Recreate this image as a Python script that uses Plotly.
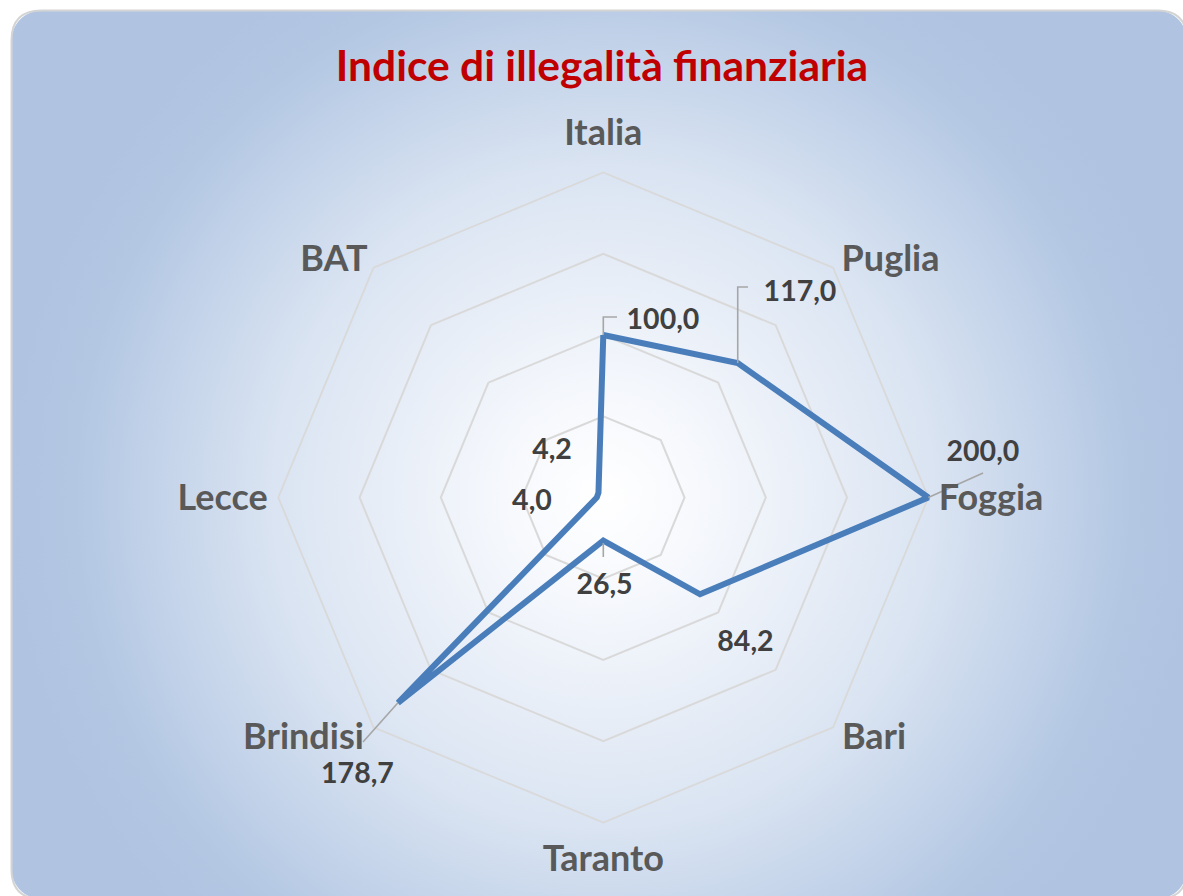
import numpy as np
import plotly.graph_objects as go

# ---------------- data ----------------
categories = ["Italia", "Puglia", "Foggia", "Bari", "Taranto", "Brindisi", "Lecce", "BAT"]
values = [100.0, 117.0, 200.0, 84.2, 26.5, 178.7, 4.0, 4.2]
value_labels = ["100,0", "117,0", "200,0", "84,2", "26,5", "178,7", "4,0", "4,2"]
grid_values = [50, 100, 150]
radial_max = 200
title_text = "Indice di illegalità finanziaria"

# ---------------- label placement (polar r, theta in degrees) ----------------
cat_label_r = [222.5, 228.6, 238.6, 223.7, 224.3, 237.3, 234.3, 220.2]
cat_label_theta = [0, 50.65, 90.52, 131.86, 180, 231.03, 269.47, 311.17]
val_label_r = [114.4, 174.4, 235.2, 125.4, 54.8, 228.4, 44.0, 42.4]
val_label_theta = [18.73, 43.96, 83.39, 135.76, 179.2, 221.48, 266.0, 311.88]
leader_lines = [
    ([100, 111.1, 111.4], [0, 0, 4.34]),
    ([117, 153.7, 157.2], [45, 32.56, 34.5]),
    ([200, 234.2], [90, 86.3]),
    ([28, 36.6], [180, 180]),
    ([178.7, 211.0], [225, 224.5]),
]

# ---------------- layout geometry ----------------
W, H = 1183, 896
cx, cy = 603.3, 497.5
px_per_unit = 325 / radial_max
outer_range = 240

GRID = "#d9d9d9"
LINE = "#4a7ebb"
CAT_COLOR = "#595959"
VAL_COLOR = "#404040"
FONT = "Lato"

fig = go.Figure()

# background: rounded rectangle with radial gradient
bx0, by0, bx1, by1, rad = 11.5, 10.5, 1187.0, 899.0, 30.0
half = 600.0


def arc(xc, yc, a0, a1, n=14):
    t = np.radians(np.linspace(a0, a1, n))
    return list(xc + rad * np.cos(t)), list(yc + rad * np.sin(t))


xs, ys = [], []


def add(px, py):
    xs.extend(px)
    ys.extend(py)


add([bx0, cx - half, bx0], [cy, cy, cy])
add(*arc(bx0 + rad, by0 + rad, 180, 270))
add([cx, cx, cx], [by0, cy - half, by0])
add(*arc(bx1 - rad, by0 + rad, 270, 360))
add([bx1, cx + half, bx1], [cy, cy, cy])
add(*arc(bx1 - rad, by1 - rad, 0, 90))
add([cx, cx, cx], [by1, cy + half, by1])
add(*arc(bx0 + rad, by1 - rad, 90, 180))
add([bx0], [cy])

fig.add_trace(go.Scatter(
    x=xs, y=ys, mode="lines", fill="toself",
    line=dict(width=0, simplify=False),
    fillgradient=dict(
        type="radial",
        colorscale=[[0, "#ffffff"], [0.15, "#f7f9fd"], [0.55, "#dae4f2"],
                    [0.88, "#b3c7e3"], [1, "#b0c4e2"]],
    ),
    hoverinfo="skip", showlegend=False,
))

# border
path = (f"M {bx0 + rad},{by0} L {bx1 - rad},{by0} Q {bx1},{by0} {bx1},{by0 + rad} "
        f"L {bx1},{by1 - rad} Q {bx1},{by1} {bx1 - rad},{by1} L {bx0 + rad},{by1} "
        f"Q {bx0},{by1} {bx0},{by1 - rad} L {bx0},{by0 + rad} Q {bx0},{by0} {bx0 + rad},{by0} Z")
fig.add_shape(type="path", path=path, xref="x", yref="y",
              line=dict(color="#d4d4d4", width=2), fillcolor="rgba(0,0,0,0)", layer="above")

# polar 1 : categorical grid (octagon)
fig.add_trace(go.Scatterpolar(
    r=values, theta=categories, mode="markers",
    marker=dict(size=1, opacity=0), hoverinfo="skip", showlegend=False,
    subplot="polar",
))

# polar 2 : data line and labels
n = len(categories)
theta_vals = [i * 360 / n for i in range(n)]
fig.add_trace(go.Scatterpolar(
    r=values + values[:1], theta=theta_vals + theta_vals[:1], mode="lines",
    line=dict(color=LINE, width=6), subplot="polar2", showlegend=False,
    hoverinfo="skip",
))
for lr, lt in leader_lines:
    fig.add_trace(go.Scatterpolar(
        r=lr, theta=lt, mode="lines", line=dict(color="#a6a6a6", width=1.6),
        subplot="polar2", showlegend=False, hoverinfo="skip",
    ))
fig.add_trace(go.Scatterpolar(
    r=val_label_r, theta=val_label_theta, mode="text", text=value_labels,
    textposition="middle center",
    textfont=dict(family=FONT, size=28.5, color=VAL_COLOR, weight="bold"),
    subplot="polar2", showlegend=False, cliponaxis=False, hoverinfo="skip",
))
fig.add_trace(go.Scatterpolar(
    r=cat_label_r, theta=cat_label_theta, mode="text", text=categories,
    textposition="middle center",
    textfont=dict(family=FONT, size=36, color=CAT_COLOR, weight="bold"),
    subplot="polar2", showlegend=False, cliponaxis=False, hoverinfo="skip",
))

r1 = 325
r2 = outer_range * px_per_unit

fig.update_layout(
    width=W, height=H,
    margin=dict(l=0, r=0, t=0, b=0),
    paper_bgcolor="white",
    plot_bgcolor="rgba(0,0,0,0)",
    showlegend=False,
    title=dict(text=title_text, x=602 / W, y=1 - 66 / H, xanchor="center", yanchor="middle",
               font=dict(family=FONT, size=42.5, color="#c00000", weight="bold")),
    xaxis=dict(range=[0, W], domain=[0, 1], visible=False, fixedrange=True),
    yaxis=dict(range=[H, 0], domain=[0, 1], visible=False, fixedrange=True),
    polar=dict(
        domain=dict(x=[(cx - r1) / W, (cx + r1) / W], y=[(H - cy - r1) / H, (H - cy + r1) / H]),
        bgcolor="rgba(0,0,0,0)",
        gridshape="linear",
        radialaxis=dict(range=[0, radial_max], tickvals=grid_values, showticklabels=False,
                        ticks="", showline=False, gridcolor=GRID, gridwidth=1.8),
        angularaxis=dict(rotation=90, direction="clockwise", showgrid=False,
                         showticklabels=False, ticks="", showline=True,
                         linecolor=GRID, linewidth=1.8),
    ),
    polar2=dict(
        domain=dict(x=[(cx - r2) / W, (cx + r2) / W], y=[(H - cy - r2) / H, (H - cy + r2) / H]),
        bgcolor="rgba(0,0,0,0)",
        radialaxis=dict(range=[0, outer_range], visible=False, showgrid=False),
        angularaxis=dict(rotation=90, direction="clockwise", showgrid=False, visible=False,
                         showline=False, showticklabels=False, ticks="", thetaunit="degrees"),
    ),
)

fig.write_html("out.html", config={"displayModeBar": False},
               post_script="document.body.style.margin='0';")
